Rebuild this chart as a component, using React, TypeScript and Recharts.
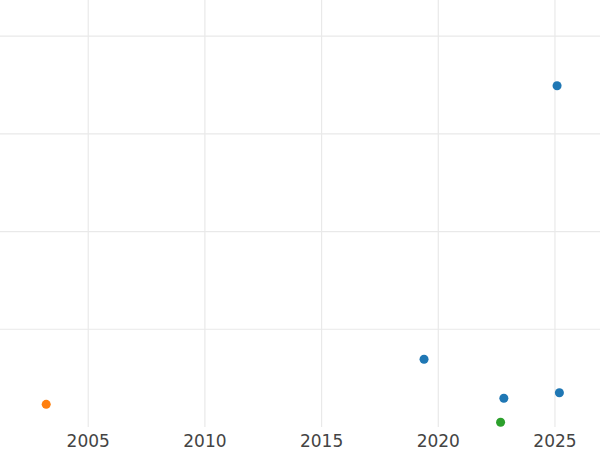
import React from "react";
import { ScatterChart, Scatter, XAxis, YAxis, CartesianGrid } from "recharts";

const blueYears = [2019.39, 2022.81, 2025.19, 2025.09];
const blueValues = [0.693, 0.294, 0.351, 3.491];
const orangeYears = [2003.2];
const orangeValues = [0.232];
const greenYears = [2022.67];
const greenValues = [0.049];
const xTicks = [2005, 2010, 2015, 2020, 2025];
const yTicks = [1, 2, 3, 4];

const toPoints = (xs: number[], ys: number[]) => xs.map((x, i) => ({ x, y: ys[i] }));

export default function App() {
  return (
    <div style={{ position: "absolute", left: 0, top: 0, background: "#fff" }}>
      <ScatterChart width={600} height={450} margin={{ top: 0, right: 0, bottom: 0, left: 0 }}>
        <CartesianGrid stroke="#e9e9e9" strokeWidth={1.2} syncWithTicks />
        <XAxis
          type="number"
          dataKey="x"
          domain={[2001.22, 2026.93]}
          ticks={xTicks}
          axisLine={false}
          tickLine={false}
          height={23}
          tick={{ fontSize: 17, fill: "#444", fontFamily: "DejaVu Sans" }}
          allowDataOverflow
        />
        <YAxis type="number" dataKey="y" domain={[0, 4.369]} ticks={yTicks} hide allowDataOverflow />
        <Scatter data={toPoints(blueYears, blueValues)} fill="#1f77b4" isAnimationActive={false} />
        <Scatter data={toPoints(orangeYears, orangeValues)} fill="#ff7f0e" isAnimationActive={false} />
        <Scatter data={toPoints(greenYears, greenValues)} fill="#2ca02c" isAnimationActive={false} />
      </ScatterChart>
    </div>
  );
}
